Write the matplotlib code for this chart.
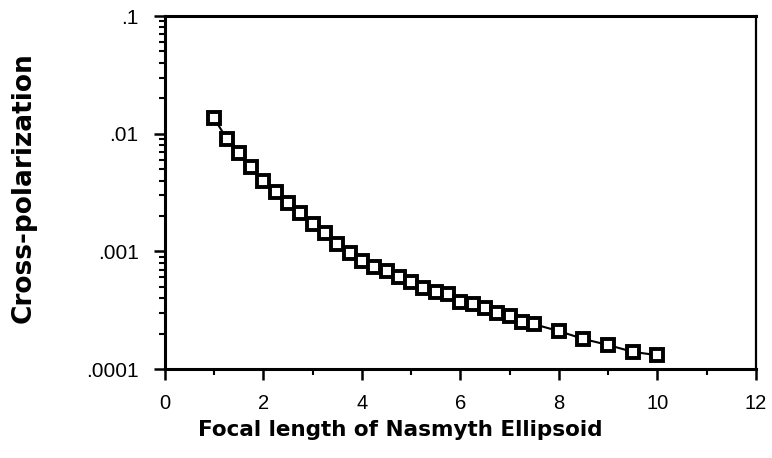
import matplotlib
matplotlib.use("Agg")
from matplotlib import pyplot as plt
from matplotlib.ticker import FixedLocator, FixedFormatter, LogLocator, NullFormatter, MultipleLocator

# focal length values
focal = [1.0, 1.25, 1.5, 1.75, 2.0, 2.25, 2.5, 2.75, 3.0, 3.25, 3.5, 3.75,
         4.0, 4.25, 4.5, 4.75, 5.0, 5.25, 5.5, 5.75, 6.0, 6.25, 6.5, 6.75,
         7.0, 7.25, 7.5, 8.0, 8.5, 9.0, 9.5, 10.0]
xpol = [0.0135, 0.0091, 0.0068, 0.0052, 0.0040, 0.0032, 0.0026, 0.0021,
        0.0017, 0.00144, 0.00116, 0.00096, 0.00082, 0.00074, 0.00068, 0.00061,
        0.00055, 0.00049, 0.00045, 0.00043, 0.00037, 0.00036, 0.00033, 0.00030,
        0.00028, 0.00025, 0.00024, 0.00021, 0.00018, 0.00016, 0.00014, 0.000131]

yticks = [0.0001, 0.001, 0.01, 0.1]
ylabels = [".0001", ".001", ".01", ".1"]

plt.rcParams['font.family'] = ['Liberation Sans', 'DejaVu Sans']

fig = plt.figure(figsize=(7.72, 4.58), dpi=100)
ax = fig.add_axes([0.2137, 0.1943, 0.7653, 0.7707])

ax.plot(focal, xpol, color='black', lw=1.5, marker='s', ms=8.5,
        mfc='white', mec='black', mew=2.8)

ax.set_yscale('log')
ax.set_xlim(0, 12)
ax.set_ylim(0.0001, 0.1)

ax.xaxis.set_major_locator(MultipleLocator(2))
ax.xaxis.set_minor_locator(MultipleLocator(1))
ax.yaxis.set_major_locator(FixedLocator(yticks))
ax.yaxis.set_major_formatter(FixedFormatter(ylabels))
ax.yaxis.set_minor_locator(LogLocator(base=10, subs=range(2, 10)))
ax.yaxis.set_minor_formatter(NullFormatter())

ax.tick_params(which='major', direction='out', length=8, width=1.8)
ax.tick_params(axis='x', which='major', labelsize=14.5, pad=10)
ax.tick_params(axis='y', which='major', labelsize=15, pad=11)
ax.tick_params(which='minor', direction='out', length=4, width=1.5)
ax.tick_params(top=False, right=False)

for side in ['left', 'bottom', 'top']:
    ax.spines[side].set_linewidth(2.2)
ax.spines['right'].set_linewidth(1.6)

ax.set_xlabel("Focal length of Nasmyth Ellipsoid", fontsize=15.5,
              fontweight='bold', family='DejaVu Sans')
ax.xaxis.set_label_coords(0.398, -0.145)
ax.set_ylabel("Cross-polarization", fontsize=19, fontweight='bold',
              family='DejaVu Sans')
ax.yaxis.set_label_coords(-0.218, 0.515)

fig.savefig("out.png", dpi=100)
